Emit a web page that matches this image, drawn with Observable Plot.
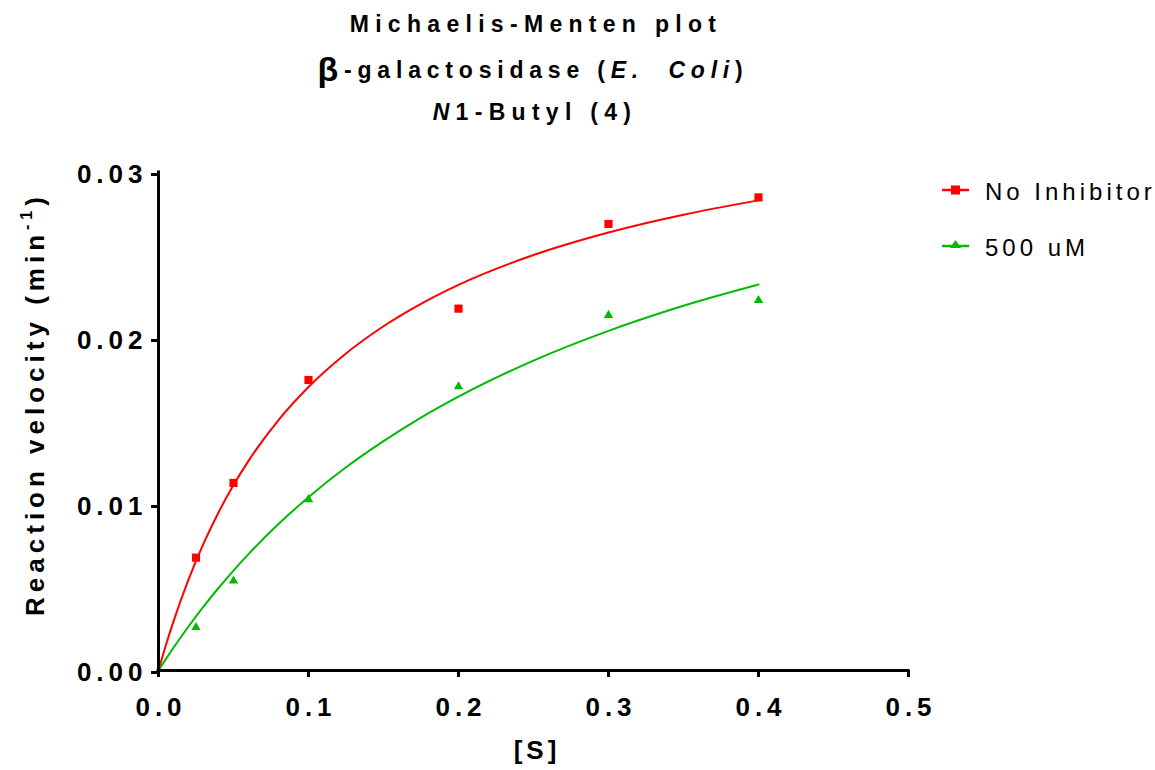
<!DOCTYPE html>
<html>
<head>
<meta charset="utf-8">
<script src="https://cdn.jsdelivr.net/npm/d3@7"></script>
<script src="https://cdn.jsdelivr.net/npm/@observablehq/plot@0.6"></script>
<style>
  body { margin: 0; background: #fff; }
  svg { font-family: "Liberation Sans", Arial, sans-serif; }
</style>
</head>
<body>
<div id="chart"></div>
<script>
// Substrate concentrations [S] of the measurements
const substrate = [0.025, 0.05, 0.1, 0.2, 0.3, 0.4];
// Measured reaction velocities (min^-1)
const noInhibitor = [0.0068, 0.0113, 0.0175, 0.0218, 0.0269, 0.0285];
const inhibitor500 = [0.0026, 0.0054, 0.0103, 0.0171, 0.0214, 0.0223];
// Fitted curves
const curveS = [0, 0.005, 0.01, 0.02, 0.03, 0.04, 0.05, 0.06, 0.08, 0.1, 0.125, 0.15, 0.175, 0.2, 0.25, 0.3, 0.35, 0.4];
const curveNoInhibitor = [0, 0.00155, 0.00296, 0.00548, 0.00764, 0.00952, 0.01117, 0.01263, 0.01509, 0.01708, 0.0191, 0.02074, 0.02209, 0.02323, 0.02503, 0.02639, 0.02746, 0.02832];
const curve500 = [0, 0.0007, 0.00137, 0.00265, 0.00385, 0.00497, 0.00602, 0.00701, 0.00882, 0.01044, 0.01224, 0.01382, 0.01524, 0.0165, 0.01867, 0.02046, 0.02197, 0.02325];
// Axis ticks
const xTicks = [0, 0.1, 0.2, 0.3, 0.4, 0.5];
const yTicks = [0, 0.01, 0.02, 0.03];
const seriesNames = ["No Inhibitor", "500 uM"];
const seriesColors = ["#ff0000", "#00bb00"];

const pts = [
  ...substrate.map((s, i) => ({s, v: noInhibitor[i], series: seriesNames[0]})),
  ...substrate.map((s, i) => ({s, v: inhibitor500[i], series: seriesNames[1]}))
];
const fit1 = curveS.map((s, i) => ({s, v: curveNoInhibitor[i]}));
const fit2 = curveS.map((s, i) => ({s, v: curve500[i]}));

const plot = Plot.plot({
  width: 1155,
  height: 770,
  marginTop: 172,
  marginBottom: 100,
  marginLeft: 158,
  marginRight: 247,
  x: {domain: [0, 0.5]},
  y: {domain: [0, 0.03]},
  style: {fontFamily: "Liberation Sans, Arial, sans-serif"},
  marks: [
    Plot.axisX({ticks: xTicks, tickFormat: d3.format(".1f"), tickSize: 7, tickPadding: 20, strokeWidth: 3,
      fontSize: 26, fontWeight: "bold", label: null, color: "#000"}),
    Plot.axisY({ticks: yTicks, tickFormat: d3.format(".2f"), tickSize: 7, tickPadding: 4, strokeWidth: 3,
      fontSize: 26, fontWeight: "bold", label: null, color: "#000", dy: 2}),
    Plot.line(fit1, {x: "s", y: "v", stroke: seriesColors[0], strokeWidth: 2, curve: "monotone-x"}),
    Plot.line(fit2, {x: "s", y: "v", stroke: seriesColors[1], strokeWidth: 2, curve: "monotone-x"}),
    Plot.dot(pts.filter(d => d.series === seriesNames[0]), {x: "s", y: "v", symbol: "square", r: 4.6, fill: seriesColors[0], stroke: "none"}),
    Plot.dot(pts.filter(d => d.series === seriesNames[1]), {x: "s", y: "v", symbol: "triangle", r: 3.5, fill: seriesColors[1], stroke: "none"}),
    Plot.ruleY([0], {stroke: "#000", strokeWidth: 3, strokeLinecap: "square"}),
    Plot.ruleX([0], {stroke: "#000", strokeWidth: 3, strokeLinecap: "square"})
  ]
});
document.getElementById("chart").appendChild(plot);

const svg = d3.select(plot);
svg.selectAll("g[aria-label='x-axis tick label'] text, g[aria-label='y-axis tick label'] text")
  .style("letter-spacing", "5px");
// compensate the trailing letter-spacing on centred x labels
svg.selectAll("g[aria-label='x-axis tick label'] text").attr("dx", 2.5);

// Title
const title = svg.append("g").attr("font-family", "Liberation Sans, Arial, sans-serif")
  .attr("font-weight", "bold").attr("font-size", 23).attr("text-anchor", "middle")
  .style("letter-spacing", "6.3px").attr("fill", "#000");
title.append("text").attr("x", 536).attr("y", 32).text("Michaelis-Menten plot");
const t2 = title.append("text").attr("x", 533).attr("y", 78).style("letter-spacing", "5.8px");
t2.append("tspan").attr("font-size", 34).attr("dy", 3).text("β");
t2.append("tspan").attr("dy", -3).text("-galactosidase (");
t2.append("tspan").attr("font-style", "italic").text("E.  Coli");
t2.append("tspan").text(")");
const t3 = title.append("text").attr("x", 535).attr("y", 120);
t3.append("tspan").attr("font-style", "italic").text("N");
t3.append("tspan").text("1-Butyl (4)");

// Axis labels
svg.append("text").attr("x", 537).attr("y", 759).attr("text-anchor", "middle")
  .attr("font-weight", "bold").attr("font-size", 26).style("letter-spacing", "4px").text("[S]");
const yl = svg.append("text").attr("transform", "translate(44,404) rotate(-90)").attr("text-anchor", "middle")
  .attr("font-weight", "bold").attr("font-size", 26).style("letter-spacing", "5px");
yl.append("tspan").text("Reaction velocity (min");
yl.append("tspan").attr("font-size", 16).attr("dy", -12).text("-1");
yl.append("tspan").attr("dy", 12).text(")");

// Legend
const legY = [190, 246];
const lg = svg.append("g");
seriesNames.forEach((name, i) => {
  const y = legY[i];
  lg.append("line").attr("x1", 942).attr("x2", 969).attr("y1", y).attr("y2", y)
    .attr("stroke", seriesColors[i]).attr("stroke-width", 2.5);
  if (i === 0) {
    lg.append("rect").attr("x", 951).attr("y", y - 4.5).attr("width", 9).attr("height", 9).attr("fill", seriesColors[i]);
  } else {
    lg.append("path").attr("d", `M955.5,${y - 6} L961,${y + 2} L950,${y + 2} Z`).attr("fill", seriesColors[i]);
  }
  lg.append("text").attr("x", 985).attr("y", y + 10).attr("font-size", 24).attr("text-anchor", "start")
    .style("letter-spacing", "4px").attr("fill", "#000").text(name);
});
</script>
</body>
</html>
